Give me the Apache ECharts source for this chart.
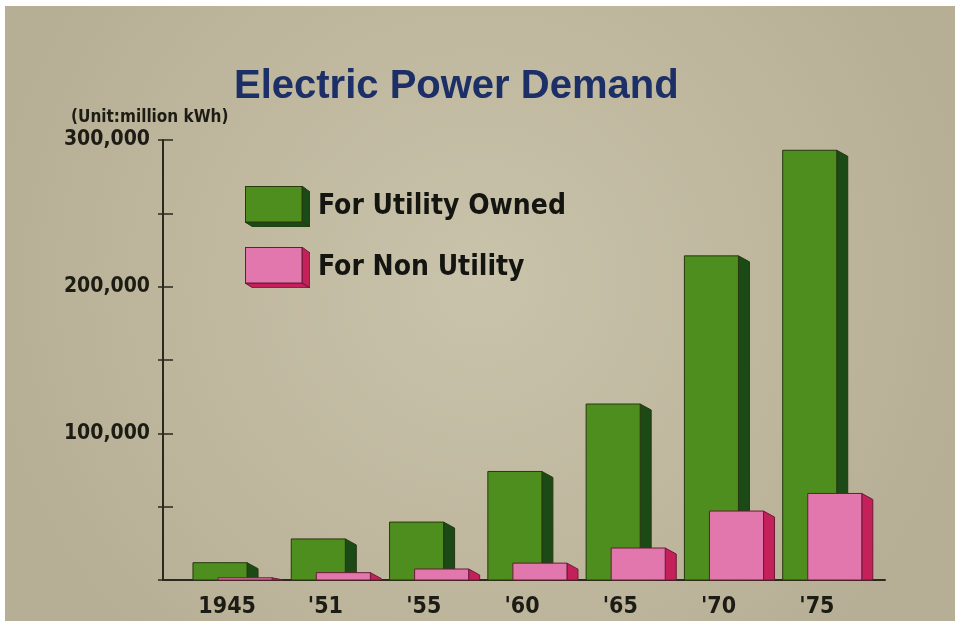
<!DOCTYPE html>
<html>
<head>
<meta charset="utf-8">
<title>Electric Power Demand</title>
<script src="https://cdn.jsdelivr.net/npm/echarts@6/dist/echarts.min.js"></script>
<style>
  html, body { margin: 0; padding: 0; background: #ffffff; }
  #chart { position: absolute; left: 5px; top: 6px; width: 950px; height: 615px; }
</style>
</head>
<body>
<div id="chart"></div>
<script>
"use strict";
// data (million kWh)
var years = ["1945", "'51", "'55", "'60", "'65", "'70", "'75"];
var utilityOwned = [11800, 28000, 39500, 74000, 120000, 221000, 293000];
var nonUtility = [1500, 5000, 7500, 11500, 21800, 47000, 59000];
var seriesNames = ["For Utility Owned", "For Non Utility"];

var NARROW = "'Liberation Sans Narrow', 'DejaVu Sans Condensed', 'Arial Narrow', sans-serif";
var INK = "#1d1c14";

var green = { front: "#4d8e1e", side: "#1b4a17", edge: "#28380f" };
var pink = { front: "#e277ad", side: "#c4205a", edge: "#6a1b36" };

function boxIcon(c) {
    var svg = '<svg xmlns="http://www.w3.org/2000/svg" width="65" height="41">' +
        '<polygon points="57,0 65,6 65,41 57,36" fill="' + c.side + '" stroke="' + c.edge + '" stroke-width="1"/>' +
        '<polygon points="0,36 57,36 65,41 8,41" fill="' + c.side + '" stroke="' + c.edge + '" stroke-width="1"/>' +
        '<rect x="0.5" y="0.5" width="56.5" height="35.5" fill="' + c.front + '" stroke="' + c.edge + '" stroke-width="1"/>' +
        '</svg>';
    return "image://data:image/svg+xml;charset=utf-8," + encodeURIComponent(svg);
}

// 3D-looking bar: front face + slanted side face
function makeRender(colors, offset) {
    return function(params, api) {
        var i = api.value(0), v = api.value(1);
        var base = api.coord([i, 0]);
        var top = api.coord([i, v]);
        var band = api.size([1, 0])[0];
        var w = band * 0.55;
        var x0 = base[0] - band / 2 + band * offset;
        var dx = 11, dy = Math.min(6, base[1] - top[1]);
        return {
            type: "group",
            children: [{
                type: "polygon",
                shape: { points: [[x0 + w, top[1]], [x0 + w + dx, top[1] + dy], [x0 + w + dx, base[1]], [x0 + w, base[1]]] },
                style: { fill: colors.side, stroke: colors.edge, lineWidth: 1 }
            }, {
                type: "rect",
                shape: { x: x0, y: top[1], width: w, height: base[1] - top[1] },
                style: { fill: colors.front, stroke: colors.edge, lineWidth: 1 }
            }]
        };
    };
}

function toData(arr) {
    return arr.map(function(v, i) { return [i, v]; });
}

var chart = echarts.init(document.getElementById("chart"));
var options = {
    backgroundColor: {
        type: "radial", x: 0.5, y: 0.45, r: 0.8,
        colorStops: [{ offset: 0, color: "#c9c3ab" }, { offset: 1, color: "#b7af95" }]
    },
    animation: false,
    title: [{
        text: "Electric Power Demand",
        left: 224, top: 56,
        textStyle: { fontFamily: "'Liberation Sans', Arial, sans-serif", fontSize: 40, fontWeight: "bold", color: "#1c2f66" }
    }, {
        text: "(Unit:million kWh)",
        left: 61, top: 98,
        textStyle: { fontFamily: NARROW, fontSize: 17, fontWeight: "bold", color: INK }
    }],
    legend: {
        orient: "vertical",
        left: 240, top: 180,
        padding: 0,
        itemWidth: 65, itemHeight: 41, itemGap: 20,
        selectedMode: false,
        textStyle: { fontFamily: NARROW, fontSize: 28, fontWeight: "bold", color: "#141410", padding: [0, 0, 0, 3] },
        data: [
            { name: seriesNames[0], icon: boxIcon(green) },
            { name: seriesNames[1], icon: boxIcon(pink) }
        ]
    },
    grid: [
        { left: 158, right: 104, top: 134, bottom: 41 },
        { left: 158, right: 70, top: 134, bottom: 41 }
    ],
    xAxis: [{
        type: "category",
        gridIndex: 0,
        data: years,
        axisLine: { show: false },
        axisTick: { show: false },
        axisLabel: { fontFamily: NARROW, fontSize: 23, fontWeight: "bold", color: INK, margin: 16, padding: [0, 0, 0, 30] }
    }, {
        // baseline runs a bit past the last bar
        type: "value",
        gridIndex: 1,
        min: 0, max: 1,
        axisLine: { show: true, lineStyle: { color: "#2b291d", width: 2 } },
        axisTick: { show: false },
        axisLabel: { show: false },
        splitLine: { show: false }
    }],
    yAxis: [{
        type: "value",
        gridIndex: 0,
        min: 0, max: 300000, interval: 50000,
        axisLine: { show: true, lineStyle: { color: "#2b291d", width: 2 } },
        axisTick: { show: true, length: 5, lineStyle: { color: "#2b291d", width: 1.5 } },
        splitLine: { show: false },
        axisLabel: {
            fontFamily: NARROW, fontSize: 21, fontWeight: "bold", color: INK, margin: 13,
            formatter: function(v) { return v % 100000 === 0 && v > 0 ? echarts.format.addCommas(v) : ""; }
        }
    }, {
        // inner half of the crossing ticks
        type: "value",
        gridIndex: 0,
        position: "left",
        min: 0, max: 300000, interval: 50000,
        axisLine: { show: false },
        axisTick: { show: true, inside: true, length: 10, lineStyle: { color: "#2b291d", width: 1.5 } },
        axisLabel: { show: false },
        splitLine: { show: false }
    }, {
        type: "value",
        gridIndex: 1,
        show: false
    }],
    series: [{
        name: seriesNames[0],
        type: "custom",
        xAxisIndex: 0, yAxisIndex: 0,
        renderItem: makeRender(green, 0.305),
        data: toData(utilityOwned)
    }, {
        name: seriesNames[1],
        type: "custom",
        xAxisIndex: 0, yAxisIndex: 0,
        renderItem: makeRender(pink, 0.56),
        data: toData(nonUtility)
    }]
};
chart.setOption(options);
</script>
</body>
</html>
